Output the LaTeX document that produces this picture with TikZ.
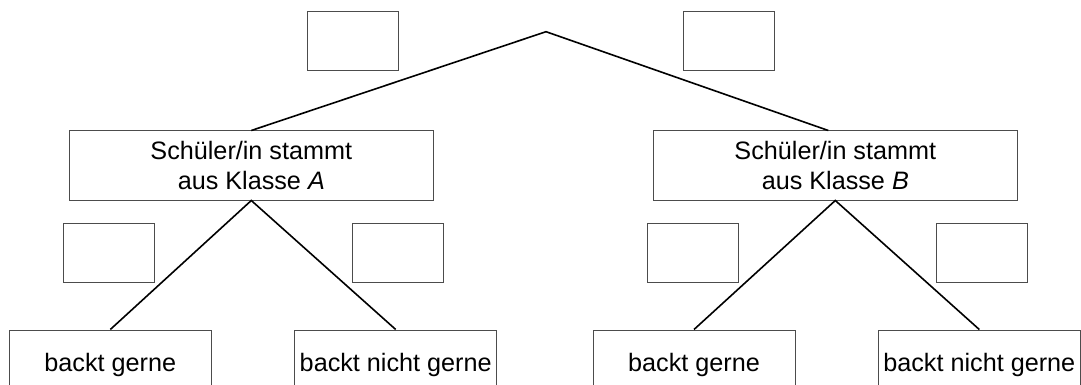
\documentclass[tikz,border=0pt]{standalone}
\usepackage{fontspec}
\setmainfont{Liberation Sans}
\begin{document}
\begin{tikzpicture}[x=0.5pt,y=-0.5pt]
    \tikzstyle{blank}=[draw=black!70,line width=0.5pt,minimum width=45.5pt,minimum height=29.5pt,inner sep=0pt]
    \tikzstyle{klasse}=[draw=black!70,line width=0.5pt,minimum width=182pt,minimum height=34.5pt,inner sep=0pt,align=center,font=\fontsize{12.6}{15}\selectfont]
    \tikzstyle{leaf}=[draw=black!70,line width=0.5pt,minimum width=101pt,minimum height=34.5pt,inner sep=0pt,font=\fontsize{12.6}{15}\selectfont]
    \tikzstyle{edge}=[line width=0.8pt]
    \clip (0,0) rectangle (1081,385);
    % first level
    \coordinate (R) at (546,31.7);
    \node[blank] (E1) at (353,41.5) {};
    \node[blank] (E2) at (729.3,41.5) {};
    \node[klasse] (K1) at (251.3,165.5) {Schüler/in stammt\\aus Klasse \textit{A}};
    \node[klasse] (K2) at (835.3,165.5) {Schüler/in stammt\\aus Klasse \textit{B}};
    \draw[edge] (K1.north) -- (R) -- ([xshift=-3.5pt]K2.north);
    % second level
    \node[blank] (E3) at (109.3,252.5) {};
    \node[blank] (E4) at (398,252.5) {};
    \node[blank] (E5) at (693,252.5) {};
    \node[blank] (E6) at (982,252.5) {};
    \node[leaf] (L1) at (110.3,364.5) {backt gerne};
    \node[leaf] (L2) at (395.7,364.5) {backt nicht gerne};
    \node[leaf] (L3) at (694,364.5) {backt gerne};
    \node[leaf] (L4) at (979.3,364.5) {backt nicht gerne};
    \draw[edge] (L1.north) -- (K1.south) -- (L2.north);
    \draw[edge] (L3.north) -- (K2.south) -- (L4.north);
\end{tikzpicture}
\end{document}
